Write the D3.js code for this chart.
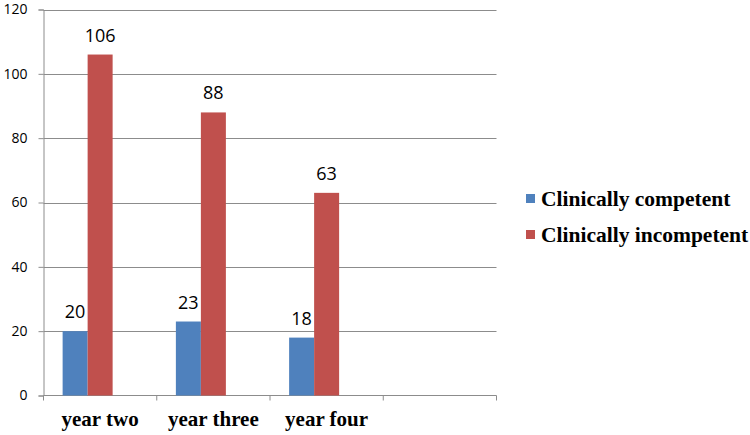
<!DOCTYPE html>
<html><head><meta charset="utf-8">
<script src="https://cdn.jsdelivr.net/npm/d3@7"></script>
<style>html,body{margin:0;padding:0;background:#fff;}svg{display:block;}</style>
</head><body>
<svg id="chart" width="750" height="435"></svg>
<script>
const categories = ["year two", "year three", "year four", ""];
const seriesNames = ["Clinically competent", "Clinically incompetent"];
const competent = [20, 23, 18, null];
const incompetent = [106, 88, 63, null];
const yTicks = [0, 20, 40, 60, 80, 100, 120];
const colors = ["#4F81BD", "#C0504D"];

const svg = d3.select("#chart");
const pLeft = 43.5, pRight = 496.5, pTop = 9.5, pBottom = 395.5;
const serifFont = '"Liberation Serif"';
const sansFont = '"Open Sans"';

const x = d3.scaleBand().domain(d3.range(categories.length)).range([pLeft, pRight]).paddingInner(0).paddingOuter(0);
const y = d3.scaleLinear().domain([0, 120]).range([pBottom, pTop]);
// three slots per category (Excel layout with an empty third slot)
const xs = d3.scaleBand().domain([0, 1, 2]).range([0, x.bandwidth()]).paddingInner(0).paddingOuter(0.765);

// gridlines
svg.append("g").selectAll("line").data(yTicks.filter(d => d > 0)).join("line")
  .attr("x1", pLeft).attr("x2", pRight)
  .attr("y1", d => Math.round(y(d)) + 0.5).attr("y2", d => Math.round(y(d)) + 0.5)
  .attr("stroke", "#8c8c8c").attr("stroke-width", 1);

// y axis
const yAxis = d3.axisLeft(y).tickValues(yTicks).tickSize(5).tickPadding(11).tickFormat(d3.format("d"));
const gy = svg.append("g").attr("transform", `translate(${pLeft},0)`).call(yAxis);
gy.select(".domain").attr("stroke", "#8c8c8c");
gy.selectAll(".tick line").attr("stroke", "#8c8c8c");
gy.selectAll(".tick text").style("font-family", sansFont).style("font-size", "14px").attr("fill", "#000");

// x axis
const xEdges = d3.range(categories.length + 1).map(i => pLeft + i * x.bandwidth());
svg.append("line").attr("x1", pLeft).attr("x2", pRight).attr("y1", pBottom).attr("y2", pBottom).attr("stroke", "#8c8c8c");
svg.append("g").selectAll("line").data(xEdges).join("line")
  .attr("x1", d => d).attr("x2", d => d).attr("y1", pBottom).attr("y2", pBottom + 5)
  .attr("stroke", "#8c8c8c");
svg.append("g").selectAll("text").data(categories).join("text")
  .attr("x", (d, i) => x(i) + x.bandwidth() / 2).attr("y", 426)
  .attr("text-anchor", "middle")
  .style("font-family", serifFont).style("font-weight", "bold").style("font-size", "21px")
  .text(d => d);

// bars
const series = [competent, incompetent];
series.forEach((vals, s) => {
  const data = vals.map((v, i) => ({i, v})).filter(d => d.v != null);
  svg.append("g").selectAll("rect").data(data).join("rect")
    .attr("x", d => x(d.i) + xs(s)).attr("width", xs.bandwidth())
    .attr("y", d => y(d.v)).attr("height", d => y(0) - y(d.v))
    .attr("fill", colors[s]);
  svg.append("g").selectAll("text").data(data).join("text")
    .attr("x", d => x(d.i) + xs(s) + xs.bandwidth() / 2).attr("y", d => y(d.v) - 13)
    .attr("text-anchor", "middle")
    .style("font-family", sansFont).style("font-size", "18px").attr("fill", "#000")
    .text(d => d.v);
});

// legend
const lg = svg.append("g");
seriesNames.forEach((n, s) => {
  const cy = 199 + s * 36;
  lg.append("rect").attr("x", 526).attr("y", cy - 5).attr("width", 9).attr("height", 9).attr("fill", colors[s]);
  lg.append("text").attr("x", 541).attr("y", cy + 7)
    .style("font-family", serifFont).style("font-weight", "bold").style("font-size", "21.5px")
    .text(n);
});
</script>
</body></html>
